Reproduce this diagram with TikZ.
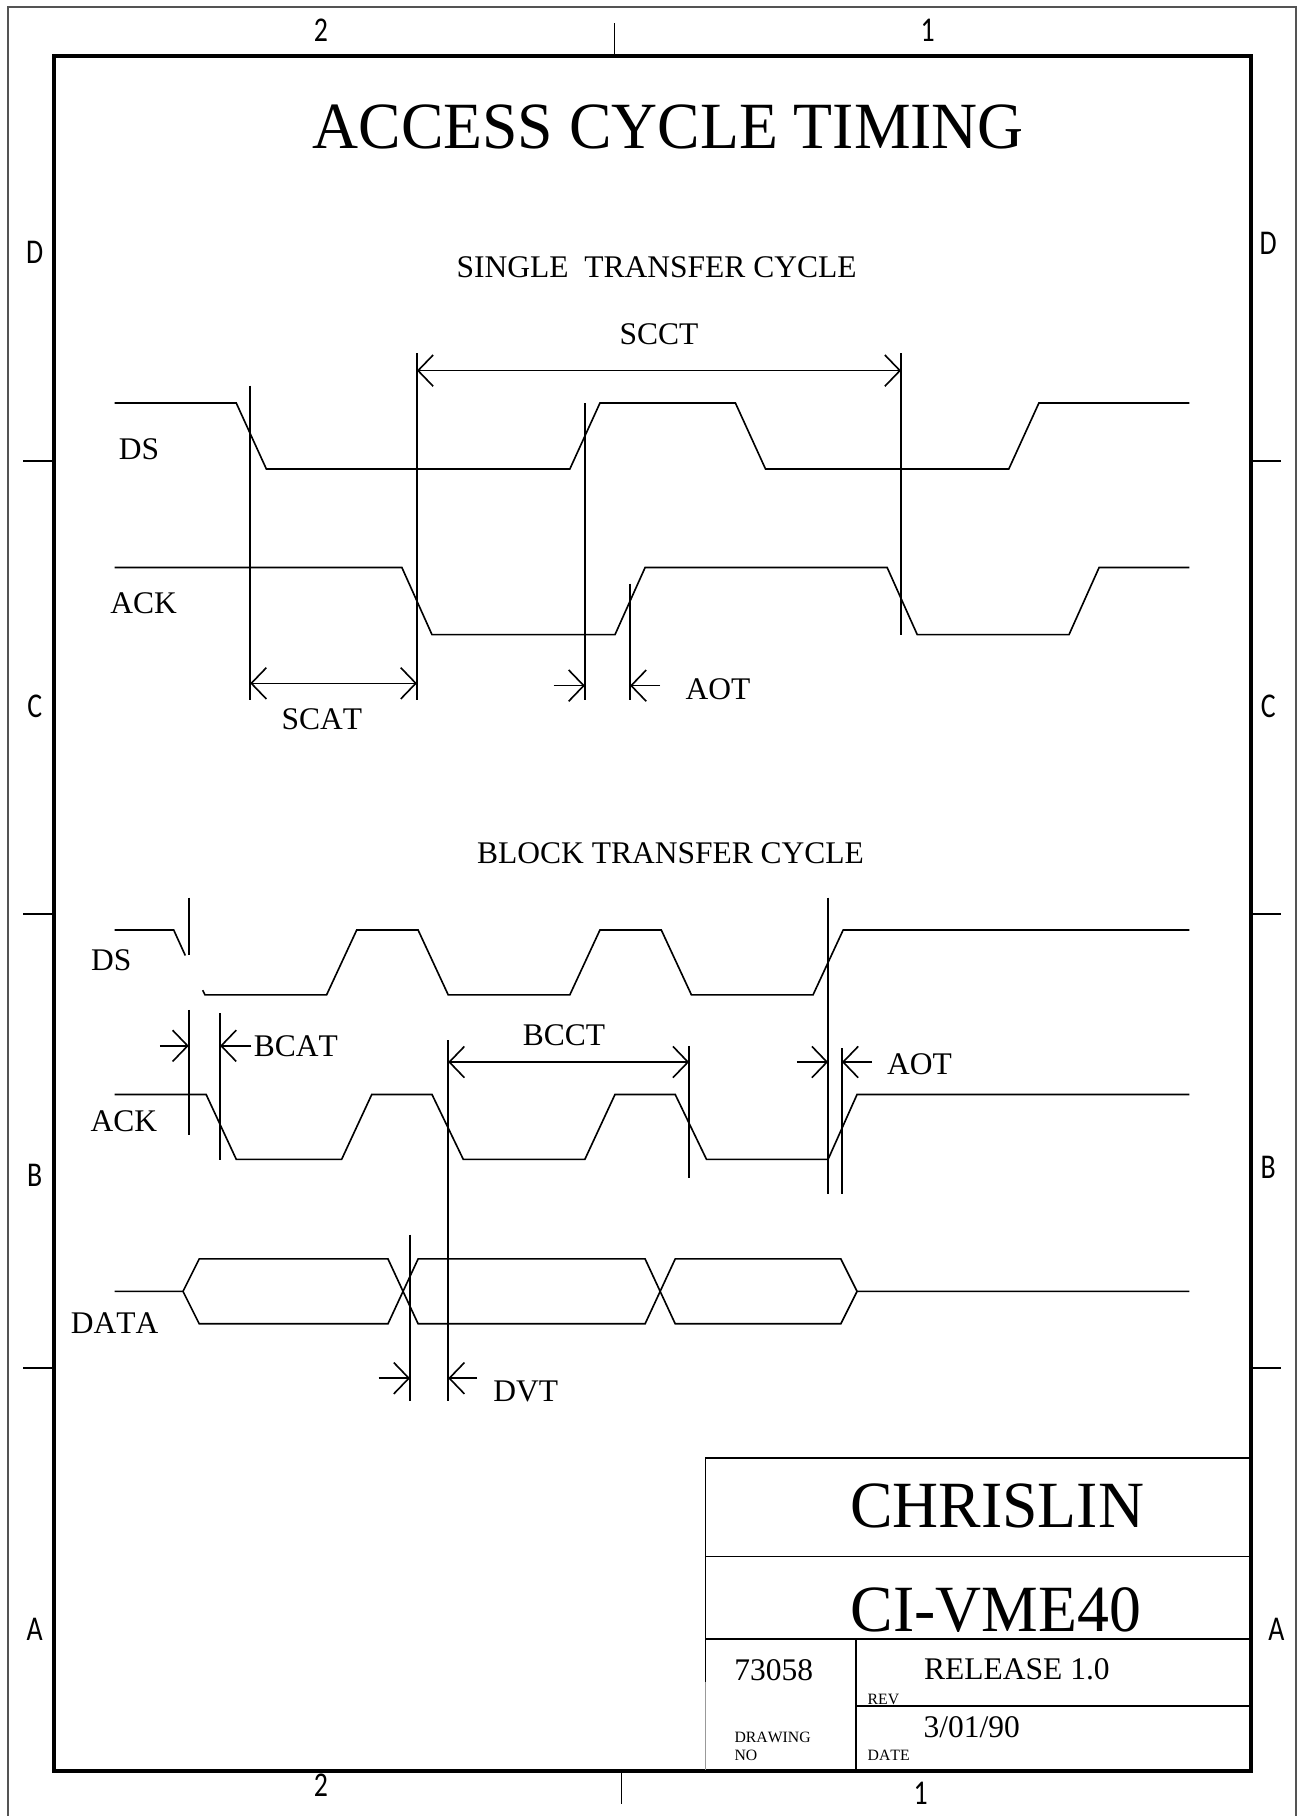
\documentclass[tikz,border=0pt]{standalone}
\usepackage{fontspec}
\setmainfont[Kerning=Off]{Liberation Serif}
\newfontfamily\zonefont[FakeStretch=0.8]{Carlito}
\newfontfamily\bigfont[FakeStretch=0.965]{Liberation Serif}
\usetikzlibrary{arrows.meta}
\definecolor{outline}{gray}{0.33}
\tikzstyle{title} = [inner sep=0pt, font=\bigfont\fontsize{57}{57}\selectfont]
\tikzstyle{heading} = [inner sep=0pt, font=\fontsize{27.2}{27}\selectfont]
\tikzstyle{label} = [inner sep=0pt, font=\fontsize{27.2}{27}\selectfont]
\tikzstyle{tiny} = [inner sep=0pt, anchor=west, font=\fontsize{13.6}{14}\selectfont]
\tikzstyle{zone} = [inner sep=0pt, font=\zonefont\fontsize{30}{30}\selectfont]
\tikzstyle{wave} = [line width=1.4pt, line join=miter]
\tikzstyle{guide} = [line width=1.4pt]
\tikzstyle{frame} = [line width=3.4pt, line cap=rect]
\tikzstyle{edge} = [line width=1.4pt, {Straight Barb[length=13pt, width=27pt]}-{Straight Barb[length=13pt, width=27pt]}]
\tikzstyle{tip} = [line width=1.4pt, -{Straight Barb[length=13pt, width=27pt]}]

\begin{document}
\begin{tikzpicture}[x=1pt, y=-1pt]
\useasboundingbox (0,0) rectangle (1122,1568);

% frame
\draw [line width=1.5pt, outline] (6.6,1568) -- (6.6,6) -- (1119,6) -- (1119,1568);
\draw [frame] (47,48) rectangle (1080,1529);
\foreach \y in {398,789,1181} {
  \draw [guide] (20,\y) -- (47,\y);
  \draw [guide] (1080,\y) -- (1106,\y);
}
\draw [guide] (530.5,20) -- (530.5,48);
\draw [guide] (536.5,1529) -- (536.5,1558);

\node (top2) [zone] at (277,26) {2};
\node (top1) [zone] at (801,26) {1};
\node (bot2) [zone] at (277,1541) {2};
\node (bot1) [zone] at (795,1548) {1};
\node (leftD) [zone] at (30,218) {D};
\node (leftC) [zone] at (30,610) {C};
\node (leftB) [zone] at (30,1015) {B};
\node (leftA) [zone] at (30,1407) {A};
\node (rightD) [zone] at (1095,210) {D};
\node (rightC) [zone] at (1095,610) {C};
\node (rightB) [zone] at (1095,1008) {B};
\node (rightA) [zone] at (1102,1407) {A};

\node (main) [title] at (577,110) {ACCESS CYCLE TIMING};
\node (single) [heading] at (567,231) {SINGLE\ \ TRANSFER CYCLE};
\node (block) [heading] at (579,737) {BLOCK TRANSFER CYCLE};

% single transfer
\node (ds1) [label] at (120,388) {DS};
\node (ack1) [label] at (124,521) {ACK};
\draw [wave] (99,348) -- (204,348) -- (230,405) -- (492,405) -- (518,348) -- (635,348) -- (661,405) -- (871,405) -- (897,348) -- (1027,348);
\draw [wave] (99,490) -- (347,490) -- (373,548) -- (531,548) -- (557,490) -- (766,490) -- (792,548) -- (923,548) -- (949,490) -- (1027,490);

\draw [guide] (216,333) -- (216,604);
\draw [guide] (360,305) -- (360,604);
\draw [guide] (505,348) -- (505,604);
\draw [guide] (544,504) -- (544,604);
\draw [guide] (778,305) -- (778,548);

\draw [edge] (360,320) -- (778,320);
\node (scct) [label] at (569,289) {SCCT};
\draw [edge] (216,590) -- (360,590);
\node (scat) [label] at (278,621) {SCAT};
\draw [tip] (478,592) -- (505,592);
\draw [tip] (570,592) -- (544,592);
\node (aot1) [label] at (620,595) {AOT};

% block transfer
\node (ds2) [label] at (96,829) {DS};
\node (ack2) [label] at (107,968) {ACK};
\node (data) [label] at (99,1142) {DATA};
\draw [wave] (99,803) -- (150,803) -- (160,825);
\draw [wave] (175,855) -- (177,859) -- (282,859) -- (308,803) -- (361,803) -- (387,859) -- (492,859) -- (518,803) -- (571,803) -- (597,859) -- (702,859) -- (728,803) -- (1027,803);
\draw [wave] (99,945) -- (178,945) -- (204,1001) -- (295,1001) -- (321,945) -- (373,945) -- (400,1001) -- (505,1001) -- (531,945) -- (583,945) -- (610,1001) -- (715,1001) -- (740,945) -- (1027,945);
\draw [wave] (99,1115) -- (158,1115) -- (172,1087) -- (335,1087) -- (361,1143) -- (557,1143) -- (583,1087) -- (726,1087) -- (740,1115) -- (1027,1115);
\draw [wave] (158,1115) -- (172,1143) -- (335,1143) -- (361,1087) -- (557,1087) -- (583,1143) -- (726,1143) -- (740,1115);

\draw [guide] (163,775) -- (163,825);
\draw [guide] (163,872) -- (163,980);
\draw [guide] (190,875) -- (190,1002);
\draw [guide] (387,898) -- (387,1210);
\draw [guide] (595,903) -- (595,1017);
\draw [guide] (715,775) -- (715,1031);
\draw [guide] (727,905) -- (727,1031);
\draw [guide] (354,1066) -- (354,1210);

\draw [tip] (138,903) -- (163,903);
\draw [tip] (217,903) -- (190,903);
\node (bcat) [label, anchor=west] at (219,903) {BCAT};
\draw [edge] (387,917) -- (595,917);
\node (bcct) [label] at (487,894) {BCCT};
\draw [tip] (688,917) -- (715,917);
\draw [tip] (753,917) -- (727,917);
\node (aot2) [label] at (794,919) {AOT};
\draw [tip] (327,1190) -- (354,1190);
\draw [tip] (412,1190) -- (387,1190);
\node (dvt) [label] at (454,1201) {DVT};

% title block
\draw [guide] (609,1452) -- (609,1259) -- (1080,1259);
\draw [line width=0.3pt, black!40] (609,1452) -- (609,1528);
\draw [guide] (609,1344) -- (1080,1344);
\draw [guide] (609,1415) -- (1080,1415);
\draw [guide] (739,1415) -- (739,1528);
\draw [guide] (739,1473) -- (1080,1473);
\node (company) [title] at (861,1300) {CHRISLIN};
\node (board) [title] at (860,1390) {CI-VME40};
\node (number) [label] at (668,1442) {73058};
\node (release) [label] at (878,1441) {RELEASE 1.0};
\node (date) [label] at (839,1491) {3/01/90};
\node (rev) [tiny] at (749,1467) {REV};
\node (datelbl) [tiny] at (749,1516) {DATE};
\node (drawing) [tiny] at (634,1500) {DRAWING};
\node (no) [tiny] at (634,1516) {NO};

\end{tikzpicture}
\end{document}
